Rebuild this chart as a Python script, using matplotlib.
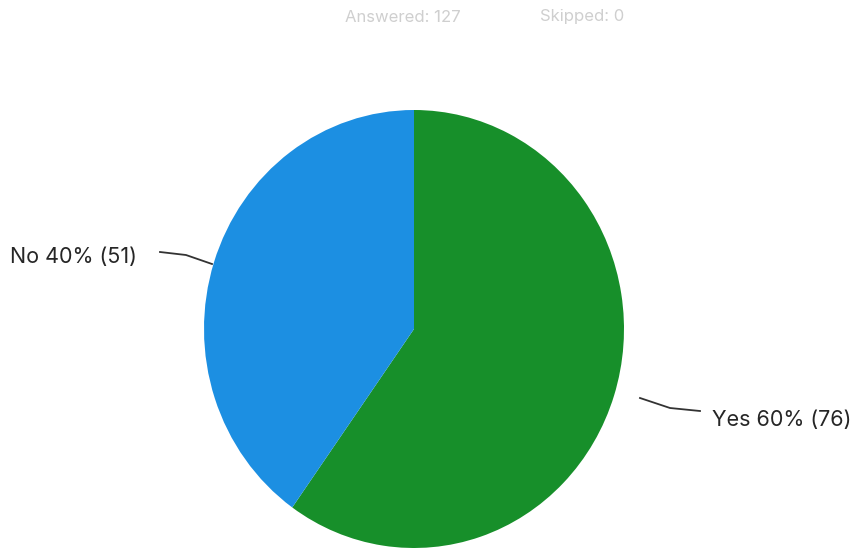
import matplotlib.pyplot as plt

# === Data ===
labels = ["Yes", "No"]
counts = [76, 51]
colors = ["#178f2a", "#1c8fe2"]
answered = 127
skipped = 0

total = sum(counts)
pcts = [round(100 * c / total) for c in counts]

# === Figure in pixel coordinates (y up) ===
W, H = 855, 548
fig = plt.figure(figsize=(W / 100, H / 100), dpi=100)
ax = fig.add_axes([0, 0, 1, 1])
ax.set_xlim(0, W)
ax.set_ylim(0, H)
ax.axis("off")

# pie in its own axes (slightly taller than wide, like the scan)
pie_ax = fig.add_axes([204 / W, 0 / H, 420 / W, 438 / H])
pie_ax.pie(counts, colors=colors, startangle=90, counterclock=False,
           radius=1, wedgeprops=dict(linewidth=0))
pie_ax.set_aspect("auto")
pie_ax.set_xlim(-1, 1)
pie_ax.set_ylim(-1, 1)
pie_ax.axis("off")

# header text (faint)
ax.text(345, H - 17, f"Answered: {answered}", fontsize=12, color="#cfcfcf",
        family="Inter", va="center", ha="left")
ax.text(540, H - 17, f"Skipped: {skipped}", fontsize=12, color="#cfcfcf",
        family="Inter", va="center", ha="left")

# labels with leader lines
ax.text(10, H - 257, f"{labels[1]} {pcts[1]}% ({counts[1]})", fontsize=15.5,
        color="#262626", family="Inter", va="center", ha="left")
ax.plot([160, 186, 212], [H - 252, H - 255, H - 264], color="#333333", lw=1.3)

ax.text(851, H - 420, f"{labels[0]} {pcts[0]}% ({counts[0]})", fontsize=15.5,
        color="#262626", family="Inter", va="center", ha="right")
ax.plot([640, 670, 700], [H - 398, H - 408, H - 411], color="#333333", lw=1.3)

fig.savefig("out.png", dpi=100)
